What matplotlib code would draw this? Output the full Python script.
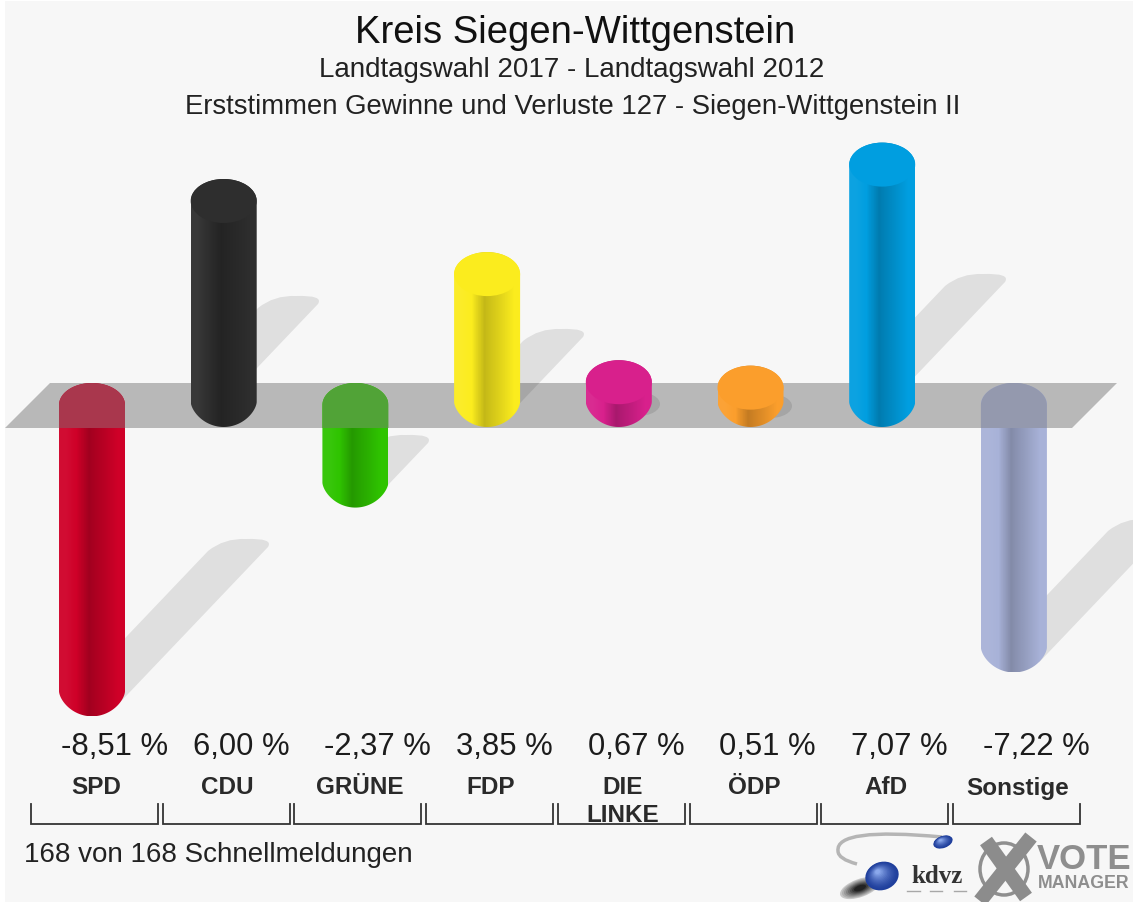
import numpy as np
import matplotlib
matplotlib.use("Agg")
import matplotlib.pyplot as plt
from matplotlib.colors import LinearSegmentedColormap, to_rgb
from matplotlib.patches import Ellipse, PathPatch, Polygon, Rectangle
from matplotlib.path import Path
from matplotlib.transforms import Affine2D

# Daten
parties = ["SPD", "CDU", "GRÜNE", "FDP", "DIE\nLINKE", "ÖDP", "AfD", "Sonstige"]
changes = [-8.51, 6.00, -2.37, 3.85, 0.67, 0.51, 7.07, -7.22]
value_labels = ["-8,51 %", "6,00 %", "-2,37 %", "3,85 %", "0,67 %", "0,51 %", "7,07 %", "-7,22 %"]
colors = ["#cf0028", "#2e2e2e", "#2fc400", "#fbec1e", "#d8208c", "#fb9e2c", "#009ee0", "#a8b2d8"]
title = "Kreis Siegen-Wittgenstein"
subtitle1 = "Landtagswahl 2017 - Landtagswahl 2012"
subtitle2 = "Erststimmen Gewinne und Verluste 127 - Siegen-Wittgenstein II"
footer = "168 von 168 Schnellmeldungen"

W, H = 1133, 903
BG = "#f7f7f7"
PLANE = "#b8b8b8"

# Skala: 131.7 px je Partei, 34 px je Prozentpunkt, Null bei y=406
PX_X, PX_Y = 131.7, 34.0
RX, RY = 33 / PX_X, 22 / PX_Y
TIP, SIDE = 25 / PX_Y, 3 / PX_Y  # Boden der Saeule ist etwas spitzer als der Deckel

fig = plt.figure(figsize=(W / 100, H / 100), dpi=100, facecolor="white")
ax = fig.add_axes([0, 0, 1, 1])
ax.set_xlim(-92 / PX_X, (W - 92) / PX_X)
ax.set_ylim(-(H - 406) / PX_Y, 406 / PX_Y)
ax.axis("off")

# Pixelkoordinaten fuer Deko (y nach unten)
pix = Affine2D().scale(1, -1).translate(0, H)
plt.rcParams["font.family"] = ["Liberation Sans", "DejaVu Sans"]


def mix(c, other, t):
    c, other = np.array(to_rgb(c)), np.array(to_rgb(other))
    return tuple(c * (1 - t) + other * t)


def bar_path(i, top, bottom):
    # Zylinderumriss: runder Deckel oben, runder Boden unten
    t = np.linspace(0, np.pi, 60)
    xs = np.r_[i + RX * np.cos(t), i - RX * np.cos(t)]
    ys = np.r_[top + RY * np.sin(t), bottom + SIDE - TIP * np.sin(t) ** 1.25]
    return Path(np.c_[xs, ys])


def draw_bar(i, top, bottom, color, z):
    cmap = LinearSegmentedColormap.from_list(
        "c", [mix(color, "white", 0.05), color, mix(color, "black", 0.22),
              mix(color, "black", 0.1), color], N=128)
    patch = PathPatch(bar_path(i, top, bottom), fc="none", ec="none", zorder=z)
    ax.add_patch(patch)
    img = ax.imshow(np.array([[0, .3, .55, .75, 1]]), cmap=cmap, aspect="auto", interpolation="bilinear",
                    extent=(i - RX, i + RX, bottom - RY, top + RY), zorder=z)
    img.set_clip_path(patch)


ax.add_patch(Rectangle((5, 2), W - 5, H - 2, fc=BG, ec="none", transform=pix, zorder=0))

# Ebene
plane_pts = [(5, 429), (50, 384), (1117, 384), (1072, 429)]
ax.add_patch(Polygon(plane_pts, closed=True, fc=PLANE, ec="none", transform=pix, zorder=2))

# Schatten: schraeg nach rechts oben, Spitze in Pixeln
shadow_tips = [(268, 540), (318, 297), (428, 436), (583, 330), (660, 405), (792, 407), (1005, 275), (1168, 520)]
SLOPE = 1.05
for i, v in enumerate(changes):
    cx = 92 + PX_X * i + 25
    tx, ty = shadow_tips[i]
    if abs(v) < 1:
        ax.add_patch(Ellipse((tx - 22, ty), 44, 24, fc="black", alpha=0.1, ec="none", transform=pix, zorder=3))
        continue
    low = (cx, ty + 8 + SLOPE * (tx - cx))
    up = (cx, ty + 12 + SLOPE * (tx - 60 - cx))
    verts = [up, (tx - 60, ty + 12), (tx - 44, ty - 1), (tx - 22, ty), (tx + 6, ty - 1), (tx, ty + 8), low, up]
    codes = [Path.MOVETO, Path.LINETO, Path.CURVE3, Path.CURVE3, Path.CURVE3, Path.CURVE3, Path.LINETO, Path.CLOSEPOLY]
    ax.add_patch(PathPatch(Path(verts, codes), fc="black", alpha=0.095, ec="none", transform=pix, zorder=3))

# Saeulen
for i, v in enumerate(changes):
    c = colors[i]
    if v >= 0:
        draw_bar(i, v, 0, c, 4)
        ax.add_patch(Ellipse((i, v), 2 * RX, 2 * RY, fc=c, ec="none", zorder=5))
    else:
        draw_bar(i, 0, v, c, 4)
        # Deckel scheint durch die Ebene
        lid = PathPatch(bar_path(i, 0, v), ec="none", zorder=5,
                        fc=tuple(0.55 * np.array(to_rgb(c)) + 0.3 * 184 / 255))
        ax.add_patch(lid)
        lid.set_clip_path(Polygon(plane_pts, closed=True, transform=pix))

# Texte
dark = "#1c1c1c"
fig.text(575 / W, 1 - 33 / H, title, ha="center", va="center", fontsize=27.5, color="#111111")
fig.text(572 / W, 1 - 70 / H, subtitle1, ha="center", va="center", fontsize=20, color="#222222")
fig.text(573 / W, 1 - 107 / H, subtitle2, ha="center", va="center", fontsize=19.8, color="#222222")
fig.text(24 / W, 1 - 855 / H, footer, ha="left", va="center", fontsize=20, color="#222222")

for i in range(len(parties)):
    ax.text(i - 31 / PX_X, -(747 - 406) / PX_Y, value_labels[i], ha="left", va="center", fontsize=22.3, color=dark)
    lines = parties[i].split("\n")
    ys = [787, 815] if len(lines) == 2 else [788]
    for line, y in zip(lines, ys):
        ax.text(i + 4 / PX_X, -(y - 406) / PX_Y, line, ha="center", va="center", fontsize=17.5,
                fontweight="bold", color="#2a2a2a")
    # Klammer unter jeder Partei
    x0 = 31 + PX_X * i
    x1 = x0 + 127
    ax.plot([x0, x0, x1, x1], [805, 825, 825, 805], color="#333333", lw=1.3, transform=pix,
            solid_joinstyle="miter", zorder=6)


def ball(x, y, rx, ry, z=7):
    # Kugel aus konzentrischen Ellipsen
    for k in np.linspace(0, 1, 14):
        ax.add_patch(Ellipse((x - 0.25 * rx * k, y - 0.3 * ry * k), 2 * rx * (1 - 0.85 * k), 2 * ry * (1 - 0.85 * k),
                             angle=-20, fc=mix("#1f3f9c", "#8aa8ec", k ** 1.5), ec="none", transform=pix, zorder=z))


# Logos
swoosh = Path([(942, 838), (835, 828), (838, 852), (838, 860), (857, 865)],
              [Path.MOVETO, Path.CURVE3, Path.CURVE3, Path.CURVE3, Path.CURVE3])
ax.add_patch(PathPatch(swoosh, fc="none", ec="#b5b5b5", lw=2.5, transform=pix, zorder=6))
for k in np.linspace(0, 1, 8):
    ax.add_patch(Ellipse((860, 889), 42 * (1 - 0.7 * k), 18 * (1 - 0.7 * k), angle=-20, fc=mix("#c8c8c8", "#222222", k),
                         ec="none", transform=pix, zorder=6))
ball(943, 843, 10, 6)
ball(882, 877, 17, 14)
ax.text(937, 877, "kdvz", transform=pix, ha="center", va="center", fontsize=18, fontweight="bold",
        family=["Liberation Serif"], color="#333333", zorder=7)
# unleserliche Kleinschrift unter dem Logo, nur als Striche
for x0, x1 in [(907, 920), (930, 942), (954, 966)]:
    ax.plot([x0, x1], [892, 892], color="#a8a8a8", lw=1, transform=pix, zorder=7)
ax.add_patch(Ellipse((1004, 870), 48, 52, fc="none", ec="#8f8f8f", lw=2.5, transform=pix, zorder=6))
ax.plot([980, 1031], [902, 838], color="#8c8c8c", lw=10.5, transform=pix, zorder=7, solid_capstyle="butt")
ax.plot([986, 1026], [842, 898], color="#8c8c8c", lw=10.5, transform=pix, zorder=7, solid_capstyle="butt")
ax.text(1037, 860, "VOTE", transform=pix, ha="left", va="center", fontsize=25, fontweight="bold", color="#8e8e8e", zorder=7)
ax.text(1038, 884, "MANAGER", transform=pix, ha="left", va="center", fontsize=12.8, fontweight="bold", color="#8e8e8e", zorder=7)

fig.savefig("out.png", dpi=100, facecolor="white")
